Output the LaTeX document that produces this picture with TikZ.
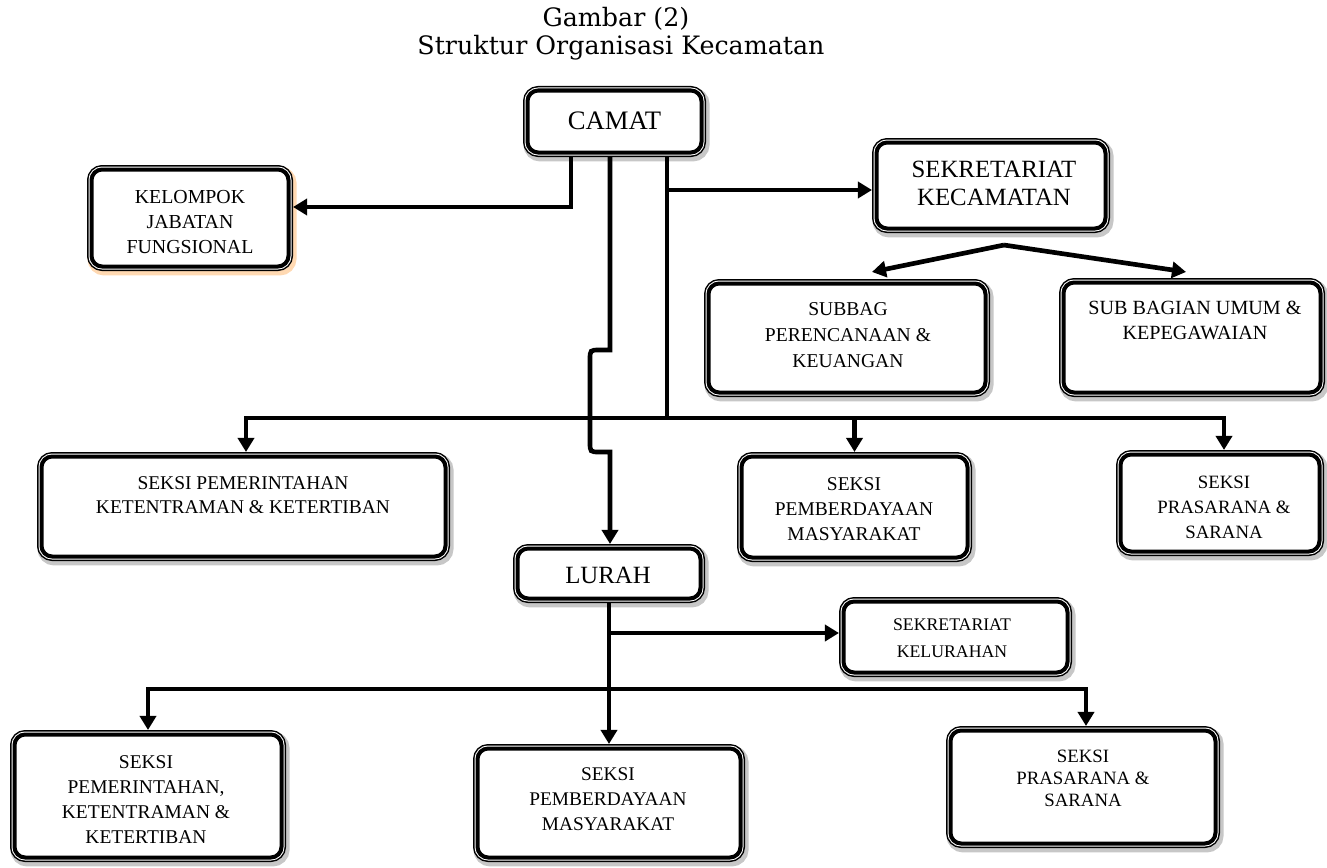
\documentclass[tikz,border=0pt]{standalone}
\usepackage{fontspec}
\setmainfont{Liberation Serif}
\newfontfamily\titlefont{DejaVu Serif}
\usetikzlibrary{arrows.meta,calc,fit}
\newcommand\obox[6]{\node[box=#6, fit={(#2+4.5,#3+4.5) (#4-4.5,#5-4.5)}] (#1) {};}
\begin{document}
\begin{tikzpicture}[x=0.75pt,y=-0.75pt,
  box/.style={
    preaction={draw=#1, line width=9pt, transform canvas={shift={(1.5pt,-2.2pt)}}},
    preaction={draw=black, line width=6.75pt},
    preaction={draw=white, line width=4.5pt},
    draw=black, fill=white, line width=3pt, rounded corners=8pt,
    inner sep=0pt, outer sep=3.4pt},
  txt/.style={align=center, inner sep=0pt},
  conn/.style={line width=3.5pt},
  arr/.style={conn, -{Triangle[width=12pt,length=10.5pt]}}]
\fill[white] (0,0) rectangle (1327,867);
\useasboundingbox (0,0) rectangle (1327,867);

% title
\node[anchor=base, inner sep=0pt, font=\titlefont\fontsize{19}{23}\selectfont] (title1) at (616,27) {Gambar (2)};
\node[anchor=base, inner sep=0pt, font=\titlefont\fontsize{19}{23}\selectfont] (title2) at (621,55) {Struktur Organisasi Kecamatan};

% boxes
\obox{camat}{523}{86}{706}{157}{black!22}
\obox{kelompok}{87}{165}{293}{271}{orange!30}
\obox{sekkec}{872}{138}{1110}{233}{black!22}
\obox{subA}{704}{279}{990}{397}{black!22}
\obox{subB}{1059}{278}{1325}{397}{black!22}
\obox{seksiA}{37}{452}{450}{561}{black!22}
\obox{seksiB}{737}{452}{972}{562}{black!22}
\obox{seksiC}{1116}{450}{1324}{556}{black!22}
\obox{lurah}{513}{544}{705}{603}{black!22}
\obox{sekkel}{839}{597}{1072}{677}{black!22}
\obox{bA}{10}{730}{286}{862}{black!22}
\obox{bB}{473}{744}{745}{862}{black!22}
\obox{bC}{946}{726}{1220}{848}{black!22}

% texts
\node[txt, font=\fontsize{20}{23}\selectfont] (tcamat) at (614.5,121) {CAMAT};
\node[txt, font=\fontsize{14.9}{18.75}\selectfont] (tkel) at (190,222) {KELOMPOK\\JABATAN\\FUNGSIONAL};
\node[txt, font=\fontsize{18.6}{21}\selectfont] (tsekkec) at (994,183) {SEKRETARIAT\\KECAMATAN};
\node[txt, font=\fontsize{14.7}{19.5}\selectfont] (tsubA) at (848,335) {SUBBAG\\PERENCANAAN \&\\KEUANGAN};
\node[txt, font=\fontsize{15.1}{18.75}\selectfont] (tsubB) at (1195,320.5) {SUB BAGIAN UMUM \&\\KEPEGAWAIAN};
\node[txt, font=\fontsize{14.6}{18}\selectfont] (tseksiA) at (243,495) {SEKSI PEMERINTAHAN\\KETENTRAMAN \& KETERTIBAN};
\node[txt, font=\fontsize{14.6}{18.75}\selectfont] (tseksiB) at (854,509) {SEKSI\\PEMBERDAYAAN\\MASYARAKAT};
\node[txt, font=\fontsize{14.1}{18.75}\selectfont] (tseksiC) at (1224,507) {SEKSI\\PRASARANA \&\\SARANA};
\node[txt, font=\fontsize{18.6}{21}\selectfont] (tlurah) at (608,575) {LURAH};
\node[txt, font=\fontsize{13.3}{20}\selectfont] (tsekkel) at (952,638.5) {SEKRETARIAT\\KELURAHAN};
\node[txt, font=\fontsize{14.6}{18.75}\selectfont] (tbA) at (146,800) {SEKSI\\PEMERINTAHAN,\\KETENTRAMAN \&\\KETERTIBAN};
\node[txt, font=\fontsize{14.5}{18.75}\selectfont] (tbB) at (608,799) {SEKSI\\PEMBERDAYAAN\\MASYARAKAT};
\node[txt, font=\fontsize{14.1}{16.5}\selectfont] (tbC) at (1083,778) {SEKSI\\PRASARANA \&\\SARANA};

% connectors from CAMAT
\coordinate (jL) at ($(camat.south)+(-43.5,0)$);
\coordinate (jM) at ($(camat.south)+(-4.5,0)$);
\coordinate (jR) at ($(camat.south)+(52.5,0)$);
\coordinate (busA) at (667,418);
\draw[arr] (jL) |- ($(kelompok.east)+(0,-11)$);
\draw[arr] (jM) -- (610,350) -- (600,350) .. controls (590,350) .. (590,360) -- (590,442) .. controls (590,452) .. (600,452) -- (610,452) -- ($(lurah.north)+(1,0)$);
\draw[conn] (jR) -- (busA);
\draw[arr] (jR |- 0,190) -- (sekkec.west |- 0,190);
\draw[arr] (busA) -| ($(seksiA.north)+(2.5,0)$);
\draw[arr] (busA) -| ($(seksiC.north)+(4,0)$);
\draw[arr] (busA -| seksiB.north) -- (seksiB.north);

% SEKRETARIAT KECAMATAN branches
\coordinate (apex) at ($(sekkec.south)+(13,12)$);
\draw[arr] (apex) -- ($(subA.north)+(25,-7)$);
\draw[arr] (apex) -- ($(subB.north)+(-6,-6)$);

% LURAH connectors
\coordinate (busB) at (lurah.south |- 0,689);
\draw[arr] (lurah.south) -- (bB.north);
\draw[arr] (lurah.south |- 0,633) -- (sekkel.west |- 0,633);
\draw[arr] (busB) -| (bA.north);
\draw[arr] (busB) -| ($(bC.north)+(3,0)$);
\end{tikzpicture}
\end{document}
